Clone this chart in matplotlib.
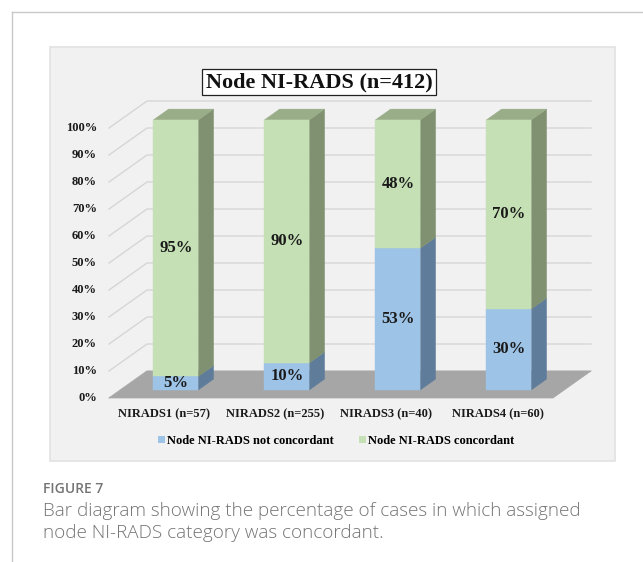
import matplotlib
matplotlib.use("Agg")
import matplotlib.pyplot as plt
from matplotlib.patches import Polygon, Rectangle, Patch
from matplotlib.lines import Line2D

# ---------------- data ----------------
categories = ["NIRADS1 (n=57)", "NIRADS2 (n=255)", "NIRADS3 (n=40)", "NIRADS4 (n=60)"]
not_concordant = [5, 10, 53, 30]
concordant = [95, 90, 48, 70]
series_names = ["Node NI-RADS not concordant", "Node NI-RADS concordant"]
y_ticks = [0, 10, 20, 30, 40, 50, 60, 70, 80, 90, 100]
y_tick_labels = [f"{t}%" for t in y_ticks]
title = "Node NI-RADS (n=412)"
fig_label = "FIGURE 7"
caption_lines = ["Bar diagram showing the percentage of cases in which assigned",
                 "node NI-RADS category was concordant."]

# ---------------- style ----------------
W, H = 643, 562
SERIF = ["Liberation Serif", "DejaVu Serif"]
SANS = ["Open Sans", "DejaVu Sans"]
blue_front, blue_side, blue_top = "#9dc3e6", "#5f7d9b", "#7fa3c6"
green_front, green_side, green_top = "#c5e0b4", "#7f9170", "#98ad88"
floor_col = "#a6a6a6"
grid_col = "#d6d6d6"
cap_col = "#747474"

# pixel anchors of front plane
X0, SX = 164.5, 111.0      # px of category 0, px per category
Y0, SY = 398.0, 2.7        # px of 0 %, px per %
DX = 38.0 / SX             # full depth offset in category units
DY = 27.0 / SY             # full depth offset in % units
d0, d1 = 0.3, 0.7          # bar depth range
bw = 45.0 / SX             # bar width

fig = plt.figure(figsize=(W / 100, H / 100), dpi=100)

def fx(px):
    return px / W

def fy(py):
    return 1 - py / H

# card border
fig.add_artist(Line2D([fx(11.5), fx(11.5)], [fy(12), fy(H)], color="#c8c8c8", lw=1.0, zorder=-10))
fig.add_artist(Line2D([fx(11.5), 1], [fy(12), fy(12)], color="#c8c8c8", lw=1.0, zorder=-10))
# chart panel
fig.add_artist(Rectangle((fx(50), fy(461)), fx(615) - fx(50), fy(47) - fy(461),
                         facecolor="#f1f1f1", edgecolor="#e2e2e2", lw=1.2, zorder=-10))

ax = fig.add_axes([0, 0, 1, 1])
ax.set_xlim((0 - X0) / SX, (W - X0) / SX)
ax.set_ylim((Y0 - H) / SY, Y0 / SY)
ax.axis("off")
ax.patch.set_alpha(0)

n = len(categories)
xl_all, xr_all = -0.5, n - 0.5

# floor
ax.add_patch(Polygon([(xl_all, 0), (xr_all, 0), (xr_all + DX, DY), (xl_all + DX, DY)],
                     closed=True, facecolor=floor_col, edgecolor=floor_col, lw=0.5, zorder=2))

# gridlines (left wall diagonal + back wall horizontal)
for t in y_ticks:
    ax.plot([xl_all, xl_all + DX, xr_all + DX], [t, t + DY, t + DY],
            color=grid_col, lw=1.0, zorder=1)

# tick labels
for t, lab in zip(y_ticks, y_tick_labels):
    ax.annotate(lab, xy=(xl_all, t), xytext=(-12 * 0.72, 0), textcoords="offset points",
                ha="right", va="center", fontsize=9, fontweight="bold", family=SERIF,
                color="#1a1a1a")

# bars
def face(pts, col, z):
    ax.add_patch(Polygon(pts, closed=True, facecolor=col, edgecolor=col, lw=0.3, zorder=z))

for i in range(n):
    tot = not_concordant[i] + concordant[i]
    segs = [(0, not_concordant[i] / tot * 100, blue_front, blue_side, blue_top, not_concordant[i]),
            (not_concordant[i] / tot * 100, 100, green_front, green_side, green_top, concordant[i])]
    xl, xr = i - bw / 2, i + bw / 2
    for k, (y0, y1, cf, cs, ct, val) in enumerate(segs):
        z = 3
        front = [(xl + d0 * DX, y0 + d0 * DY), (xr + d0 * DX, y0 + d0 * DY),
                 (xr + d0 * DX, y1 + d0 * DY), (xl + d0 * DX, y1 + d0 * DY)]
        side = [(xr + d0 * DX, y0 + d0 * DY), (xr + d1 * DX, y0 + d1 * DY),
                (xr + d1 * DX, y1 + d1 * DY), (xr + d0 * DX, y1 + d0 * DY)]
        face(side, cs, z)
        face(front, cf, z + 0.1)
        if k == len(segs) - 1:
            top = [(xl + d0 * DX, y1 + d0 * DY), (xr + d0 * DX, y1 + d0 * DY),
                   (xr + d1 * DX, y1 + d1 * DY), (xl + d1 * DX, y1 + d1 * DY)]
            face(top, ct, z)
        ax.text(i + d0 * DX, (y0 + y1) / 2 + d0 * DY, f"{val}%", ha="center", va="center",
                fontsize=12, fontweight="bold", family=SERIF, color="#1a1a1a", zorder=6)

# category labels
for i, c in enumerate(categories):
    ax.annotate(c, xy=(i, 0), xytext=(0, -16 * 0.72), textcoords="offset points",
                ha="center", va="center", fontsize=9, fontweight="bold", family=SERIF,
                color="#1a1a1a")

# title
fig.text(fx(319), fy(82), title, ha="center", va="center", fontsize=16, fontweight="bold",
         family=SERIF, color="#111111",
         bbox=dict(boxstyle="square,pad=0.15", facecolor="white", edgecolor="#222222", lw=0.9))

# legend
handles = [Patch(facecolor=blue_front, edgecolor="none"), Patch(facecolor=green_front, edgecolor="none")]
fig.legend(handles, series_names, loc="center", bbox_to_anchor=(fx(336), fy(441)), ncol=2,
           frameon=False, handlelength=0.55, handleheight=0.55, handletextpad=0.15,
           columnspacing=2.0, prop=dict(family=SERIF, weight="bold", size=9))

# caption
fig.text(fx(43), fy(489), fig_label, ha="left", va="center", fontsize=10, fontweight="semibold",
         family=SANS, color=cap_col)
fig.text(fx(43), fy(516), caption_lines[0], ha="left", va="baseline", fontsize=13.6,
         fontweight="light", family=SANS, color=cap_col)
fig.text(fx(43), fy(538), caption_lines[1], ha="left", va="baseline", fontsize=13.6,
         fontweight="light", family=SANS, color=cap_col)

fig.savefig("out.png", dpi=100, facecolor="white")
